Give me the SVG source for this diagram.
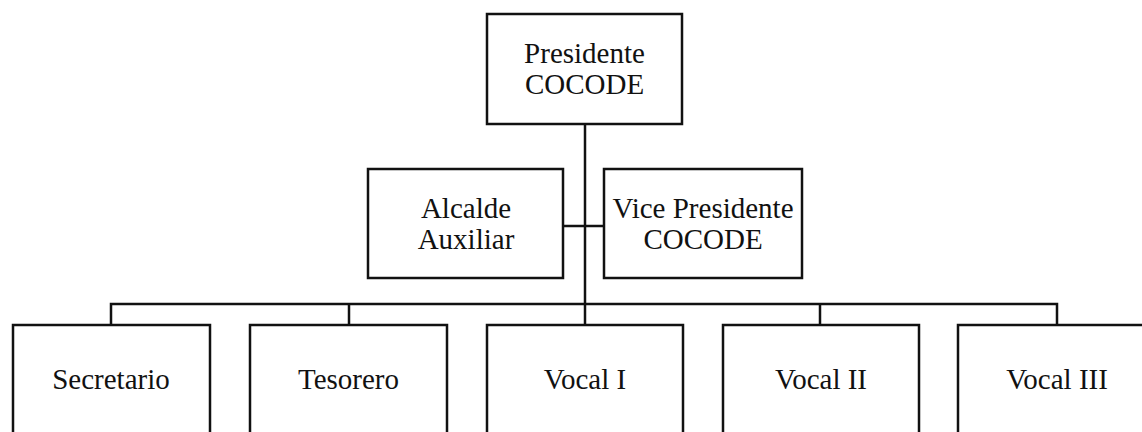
<svg xmlns="http://www.w3.org/2000/svg" width="1142" height="432" viewBox="0 0 1142 432">
  <style>
    .box { fill: #ffffff; stroke: #111111; stroke-width: 2.5; }
    .lbl { font-family: "Liberation Serif", "Times New Roman", serif; font-size: 29px; fill: #111111; text-anchor: middle; }
    .con { fill: none; stroke: #111111; stroke-width: 2.5; }
  </style>
  <rect width="1142" height="432" fill="#ffffff"/>
  <g id="connectors">
    <path class="con" d="M585 124 V325"/>
    <path class="con" d="M563 226 H604"/>
    <path class="con" d="M111 325 V304 H1057 V325"/>
    <path class="con" d="M349 304 V325"/>
    <path class="con" d="M820 304 V325"/>
  </g>
  <g id="presidente">
    <rect class="box" x="487" y="14" width="195" height="110"/>
    <text class="lbl" x="584.5" y="63">Presidente</text>
    <text class="lbl" x="584.5" y="94">COCODE</text>
  </g>
  <g id="alcalde">
    <rect class="box" x="368" y="169" width="195" height="109"/>
    <text class="lbl" x="466" y="218">Alcalde</text>
    <text class="lbl" x="466" y="249">Auxiliar</text>
  </g>
  <g id="vicepresidente">
    <rect class="box" x="604" y="169" width="198" height="109"/>
    <text class="lbl" x="703" y="218">Vice Presidente</text>
    <text class="lbl" x="703" y="249">COCODE</text>
  </g>
  <g id="secretario">
    <rect class="box" x="13" y="325" width="197" height="120"/>
    <text class="lbl" x="111" y="389">Secretario</text>
  </g>
  <g id="tesorero">
    <rect class="box" x="250" y="325" width="197" height="120"/>
    <text class="lbl" x="348.5" y="389">Tesorero</text>
  </g>
  <g id="vocal1">
    <rect class="box" x="487" y="325" width="196" height="120"/>
    <text class="lbl" x="585" y="389">Vocal I</text>
  </g>
  <g id="vocal2">
    <rect class="box" x="723" y="325" width="196" height="120"/>
    <text class="lbl" x="821" y="389">Vocal II</text>
  </g>
  <g id="vocal3">
    <rect class="box" x="958" y="325" width="210" height="120"/>
    <text class="lbl" x="1057" y="389">Vocal III</text>
  </g>
</svg>
